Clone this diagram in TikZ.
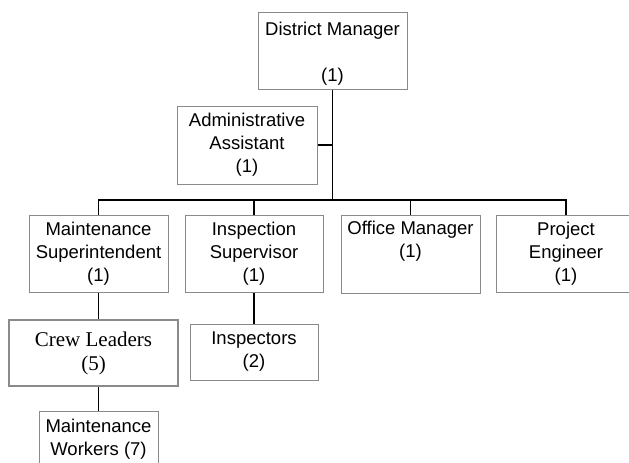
\documentclass[tikz,border=0pt]{standalone}
\usepackage{fontspec}
\setmainfont{Liberation Sans}
\newfontfamily\crewserif{Liberation Serif}
\begin{document}
\begin{tikzpicture}[x=1pt,y=-1pt,
  box/.style={draw=boxgray, line width=1pt, fill=white, align=center,
    inner sep=0pt, font=\fontsize{18.5}{23}\selectfont},
  link/.style={draw=black, line width=1.3pt}]
\definecolor{boxgray}{HTML}{8A8A8A}
\useasboundingbox (0,0) rectangle (629,463);
\clip (0,0) rectangle (629,463);
\fill[white] (0,0) rectangle (629,463);

% top of the chart
\node[box, minimum width=149pt, minimum height=77pt] (dm) at (332.5,50.5)
  {};
\node[align=center, inner sep=0pt, font=\fontsize{18.5}{23}\selectfont]
  (dmtext) at (332.5,53.5) {District Manager\\[23pt](1)};
\node[box, minimum width=140pt, minimum height=78pt] (aa) at (247,145)
  {Administrative\\Assistant\\(1)};

% second level
\node[box, minimum width=139pt, minimum height=77pt] (ms) at (98.5,253.5)
  {Maintenance\\Superintendent\\(1)};
\node[box, minimum width=138pt, minimum height=77pt] (is) at (254,253.5)
  {Inspection\\Supervisor\\(1)};
\node[box, minimum width=139pt, minimum height=78pt] (om) at (410.5,254)
  {Office Manager\\(1)\\\strut};
\node[box, minimum width=140pt, minimum height=77pt] (pe) at (566,253.5)
  {Project\\Engineer\\(1)};

% lower levels
\node[box, line width=2pt, minimum width=169pt, minimum height=66pt,
  font=\crewserif\fontsize{21}{23}\selectfont] (cl) at (93.5,353)
  {Crew Leaders\\[1pt](5)};
\node[box, minimum width=128pt, minimum height=56pt] (in) at (254,352)
  {Inspectors\\(2)};
\node[box, minimum width=119pt, minimum height=56pt] (mw) at (98.5,439)
  {Maintenance\\Workers (7)};

% connectors
\coordinate (bus) at (0,200);
\draw[link] (dm.south) -- (dm.south |- bus);
\draw[link] (aa.east) -- (aa.east -| dm.south);
\draw[link] (ms.north) -- (ms.north |- bus) -- (pe.north |- bus) -- (pe.north);
\draw[link] (is.north) -- (is.north |- bus);
\draw[link] (om.north) -- (om.north |- bus);
\draw[link] (ms.south) -- (ms.south |- cl.north);
\draw[link] (is.south) -- (in.north);
\draw[link] (ms.south |- cl.south) -- (mw.north);
\end{tikzpicture}
\end{document}
